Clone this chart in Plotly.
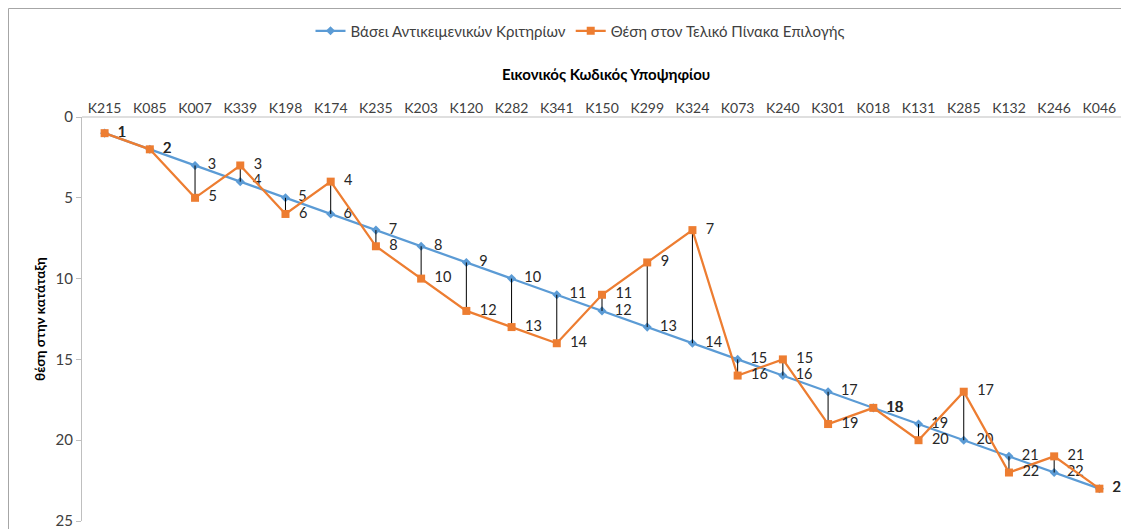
import plotly.graph_objects as go

codes = ["K215", "K085", "K007", "K339", "K198", "K174", "K235", "K203", "K120", "K282",
         "K341", "K150", "K299", "K324", "K073", "K240", "K301", "K018", "K131", "K285",
         "K132", "K246", "K046"]
objective_rank = [1, 2, 3, 4, 5, 6, 7, 8, 9, 10, 11, 12, 13, 14, 15, 16, 17, 18, 19, 20, 21, 22, 23]
final_rank = [1, 2, 5, 3, 6, 4, 8, 10, 12, 13, 14, 11, 9, 7, 16, 15, 19, 18, 20, 17, 22, 21, 23]

name_obj = "Βάσει Αντικειμενικών Κριτηρίων"
name_fin = "Θέση στον Τελικό Πίνακα Επιλογής"
x_title = "Εικονικός Κωδικός Υποψηφίου"
y_title = "θέση στην κατάταξη"

BLUE = "#5B9BD5"
ORANGE = "#ED7D31"
FONT = "Lato"

# page body has an 8px margin, so the figure is drawn 8px in from the top-left
W, H = 1129, 529
L, T, R, B = 74, 109, 0, 16
PW = W - L - R   # plot width (extended to the right so end labels are not clipped)
PH = H - T - B   # plot height
AXIS_W = 1040    # visible category-axis width
STEP = AXIS_W / len(codes)
X_MAX = -0.5 + PW / STEP


def px(fx):
    return (fx - L) / PW


def py(fy):
    return (H - B - fy) / PH


# high-low connector lines
hx, hy = [], []
for c, a, b in zip(codes, objective_rank, final_rank):
    if a != b:
        hx += [c, c, None]
        hy += [a, b, None]

fig = go.Figure()
fig.add_trace(go.Scatter(x=codes, y=objective_rank, name=name_obj, mode="lines+markers+text",
                         line=dict(color=BLUE, width=2.25),
                         marker=dict(symbol="diamond", size=7, color=BLUE),
                         text=["  " + str(v) for v in objective_rank], textposition="middle right",
                         textfont=dict(family=FONT, size=14.5, color="#262626"),
                         cliponaxis=False))
fig.add_trace(go.Scatter(x=hx, y=hy, mode="lines", line=dict(color="#000000", width=1),
                         showlegend=False, hoverinfo="skip"))
fig.add_trace(go.Scatter(x=codes, y=final_rank, name=name_fin, mode="lines+markers+text",
                         line=dict(color=ORANGE, width=2.25),
                         marker=dict(symbol="square", size=8, color=ORANGE),
                         text=["  " + str(v) for v in final_rank], textposition="middle right",
                         textfont=dict(family=FONT, size=14.5, color="#262626"),
                         cliponaxis=False))

fig.update_layout(
    width=W, height=H,
    margin=dict(l=L, r=R, t=T, b=B, autoexpand=False),
    paper_bgcolor="white", plot_bgcolor="white",
    font=dict(family=FONT, size=14, color="#404040"),
    showlegend=True,
    legend=dict(orientation="h", x=px(572), xanchor="center", y=py(23), yanchor="middle",
                font=dict(family=FONT, size=15, color="#404040"), itemwidth=30,
                bgcolor="rgba(0,0,0,0)"),
    xaxis=dict(type="category", categoryorder="array", categoryarray=codes,
               side="top", range=[-0.5, X_MAX], showgrid=False,
               showline=False, ticks="",
               tickfont=dict(family=FONT, size=14, color="#404040"), zeroline=False),
    yaxis=dict(range=[25, 0], tickvals=[0, 5, 10, 15, 20, 25], showgrid=False,
               showline=True, linecolor="#BFBFBF", linewidth=1, ticks="outside",
               ticklen=5, tickcolor="#BFBFBF", zeroline=False, ticklabeloverflow="allow",
               tickfont=dict(family=FONT, size=15, color="#404040")),
    annotations=[
        dict(text="<b>" + x_title + "</b>", xref="paper", yref="paper",
             x=px(598), y=py(66), xanchor="center", yanchor="middle",
             showarrow=False, font=dict(family=FONT, size=15, color="#000000")),
        dict(text="<b>" + y_title + "</b>", xref="paper", yref="paper",
             x=px(32), y=py(311), xanchor="center", yanchor="middle", textangle=-90,
             showarrow=False, font=dict(family=FONT, size=13.5, color="#000000")),
    ],
    shapes=[
        # top category-axis line
        dict(type="line", xref="paper", yref="paper", x0=0, x1=px(L + AXIS_W),
             y0=1, y1=1, line=dict(color="#BFBFBF", width=1), layer="below"),
        # chart-area frame
        dict(type="line", xref="paper", yref="paper", x0=px(0.5), x1=px(0.5),
             y0=py(H + 5), y1=py(0.5), line=dict(color="#A6A6A6", width=1)),
        dict(type="line", xref="paper", yref="paper", x0=px(0.5), x1=px(W + 5),
             y0=py(0.5), y1=py(0.5), line=dict(color="#A6A6A6", width=1)),
    ],
)

fig.write_html("out.html", post_script="document.body.style.overflow='hidden';")
